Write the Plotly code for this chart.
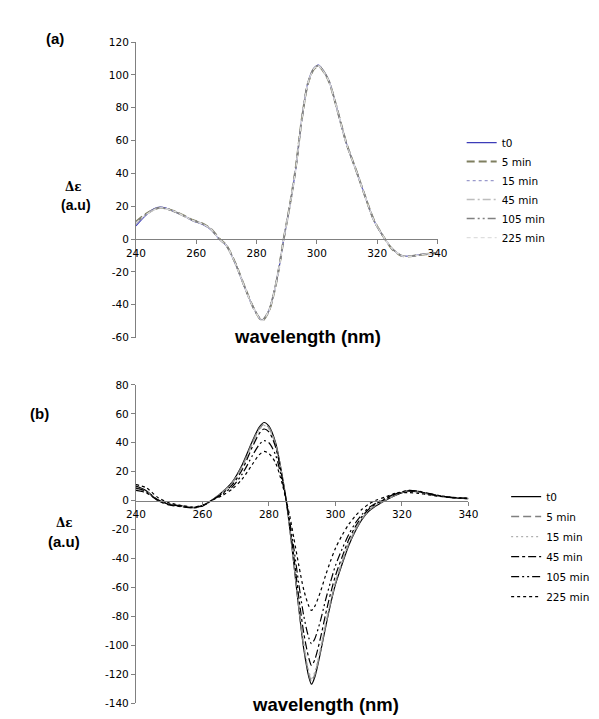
import plotly.graph_objects as go

W, H = 599, 719

# ---------------- data ----------------
series_names = ["t0", "5 min", "15 min", "45 min", "105 min", "225 min"]

wl_a = [240, 243, 246, 248, 250, 253, 256, 259, 262, 265, 267.6, 270, 273, 276, 279, 281.8, 284, 286, 287.5, 289,
        291, 293, 295, 297, 299, 300.5, 302, 304, 306, 308, 310, 313, 316, 319, 322.6, 325, 328, 330, 333, 336, 340]
a_t0 = [8, 14, 18.5, 19.5, 18.8, 16.5, 14, 11, 9, 5.5, 0, -4, -15, -29, -42, -49.5, -44, -31, -17, 0,
        20, 43, 73, 95, 104, 106, 103, 96.5, 84, 70, 57, 42, 26, 11, 0, -6, -10, -10.5, -10, -9, -8.5]
a_5 = [10.5, 15, 18, 19, 18.6, 16.8, 14.2, 11.5, 9.5, 6, 0.3, -3.8, -14.8, -28.8, -42, -49.8, -44.3, -31.2, -17, 0,
       20.3, 43.5, 73, 94.5, 103.5, 105.5, 102.6, 96, 84, 70.3, 57.2, 42, 26, 11.2, 0, -6.2, -10.2, -10.6, -10, -9.2, -8.4]
a_15 = [9, 14.5, 18.3, 19.3, 18.7, 16.6, 14, 11.2, 9.2, 5.8, 0, -4.1, -15.2, -29.2, -42.3, -49.6, -44, -31, -17.2, -0.2,
        20, 43, 72.5, 94.8, 103.8, 105.8, 102.8, 96.3, 84.2, 70.1, 57, 41.8, 25.8, 11, -0.2, -6.1, -10.1, -10.5, -10.1, -9.1, -8.6]
a_45 = [9.5, 14.2, 17.8, 18.8, 18.4, 16.4, 13.8, 11.1, 9.3, 5.7, 0.1, -4, -15, -29, -42, -49.3, -43.8, -30.8, -16.8, 0.2,
        20.2, 43.2, 72.8, 95, 104, 105.6, 102.8, 96.2, 84, 70, 56.8, 41.8, 25.9, 11.1, 0.1, -5.9, -9.9, -10.4, -9.9, -9, -8.4]
a_105 = [10, 14.6, 18.1, 19.1, 18.5, 16.6, 14.1, 11.3, 9.4, 5.9, 0.2, -3.9, -14.9, -28.9, -41.9, -49.4, -43.9, -30.9, -16.9, 0.1,
         20.1, 43.1, 72.9, 94.9, 103.9, 105.7, 102.9, 96.4, 84.1, 70.2, 57.1, 41.9, 26.1, 11.1, 0, -6, -10, -10.5, -10, -9, -8.5]
a_225 = [9.8, 14.4, 17.9, 19, 18.6, 16.7, 14, 11.2, 9.3, 5.8, 0.1, -4, -15.1, -29.1, -42.1, -49.7, -44.1, -31.1, -17.1, 0,
         20, 42.9, 72.7, 94.7, 103.7, 105.4, 102.7, 96.1, 83.9, 69.9, 56.9, 41.9, 25.9, 11, 0, -6, -10.1, -10.6, -10.1, -9.1, -8.5]

wl_b = [240, 243, 246.7, 250, 254, 257.4, 260, 262.7, 266, 269, 272, 275, 277, 278.5, 280, 282, 284, 285.2, 286.3, 287.5,
        289, 290.5, 292, 292.8, 293.8, 295.5, 297, 298.5, 300, 302, 304, 306, 308, 310, 312, 315, 318, 321.8, 325, 328,
        331, 335, 340]
b_t0 = [10, 7, 0, -2.5, -3.8, -4.8, -3.5, 0, 6, 13, 25, 41, 50.5, 54, 51.5, 40, 17, 0, -20, -44,
        -75, -103, -122, -127, -122, -105, -88, -72, -58, -44, -31, -21, -13, -7.5, -4, 0, 3.5, 6.5, 6, 4.5,
        3.2, 2, 1.4]
b_5 = [9, 6.5, 0, -2.8, -4, -5, -3.6, 0, 5.8, 12.5, 24, 40, 49.5, 52.8, 50.5, 39, 16.5, 0, -19.5, -43,
       -74, -101, -120, -125, -120.5, -104, -87, -71, -57, -43, -30, -20.5, -12.5, -7, -3.5, 0.3, 3.8, 6.8, 6.2, 4.6,
       3.3, 2.1, 1.5]
b_15 = [8, 6, 0, -3, -4.2, -5, -3.8, 0, 5.5, 12, 23, 39, 48.5, 52, 49.5, 38.5, 16, 0, -19, -42,
        -72, -99, -118, -123, -118.5, -102, -85, -69.5, -56, -42, -29, -19.5, -12, -6.5, -3, 0.5, 4, 7, 6.3, 4.8,
        3.4, 2.2, 1.5]
b_45 = [7, 5.5, 0, -3, -4.3, -5, -3.8, 0, 5, 11, 21.5, 37, 46, 49.5, 47.5, 37, 15.5, 0, -17.5, -39,
        -67, -92, -109, -114, -110, -95, -79, -64.5, -52, -39, -27, -18, -11, -6, -2.5, 1, 4.5, 7, 6.5, 5,
        3.6, 2.3, 1.6]
b_105 = [8.5, 6.5, 0.5, -2.5, -4, -4.8, -3.6, 0, 4.5, 9.5, 18.5, 31, 38.5, 41.5, 40, 31.5, 13.5, 0, -15, -33,
         -58, -80, -95, -99, -95.5, -83, -69, -56.5, -45, -33.5, -23.5, -15.5, -9.5, -5, -2, 1.5, 4.8, 6.8, 6.3, 4.8,
         3.5, 2.2, 1.5]
b_225 = [11, 9, 2, -1.5, -3.5, -4.5, -3.2, 0, 3.5, 8, 15, 25, 31.5, 34, 32.5, 26, 11.5, 0, -11, -26,
         -45, -62, -73, -76, -73, -63, -52, -42, -33, -24, -16.5, -10.5, -6, -2.5, 0, 2.5, 5, 5.5, 5, 4,
         3, 2, 1.3]

x_ticks = [240, 260, 280, 300, 320, 340]
ya_ticks = [-60, -40, -20, 0, 20, 40, 60, 80, 100, 120]
yb_ticks = [-140, -120, -100, -80, -60, -40, -20, 0, 20, 40, 60, 80]

# ---------------- styles ----------------
style_a = [
    dict(color="#3c3cb8", width=1.2, dash="solid"),
    dict(color="#7f7f60", width=2.0, dash="8px,4px"),
    dict(color="#9a9acc", width=1.2, dash="3px,3px"),
    dict(color="#bdbdbd", width=1.4, dash="8px,3px,2px,3px"),
    dict(color="#808080", width=1.6, dash="8px,3px,2px,3px,2px,3px"),
    dict(color="#dedede", width=1.2, dash="4px,3px"),
]
style_b = [
    dict(color="#000000", width=1.2, dash="solid"),
    dict(color="#808080", width=1.5, dash="8px,4px"),
    dict(color="#b0b0b0", width=1.2, dash="2px,3px"),
    dict(color="#000000", width=1.2, dash="8px,3px,3px,3px"),
    dict(color="#000000", width=1.2, dash="8px,3px,2px,3px,2px,3px"),
    dict(color="#000000", width=1.2, dash="3px,3px"),
]

fig = go.Figure()
for i, (name, ys, st) in enumerate(zip(series_names, [a_t0, a_5, a_15, a_45, a_105, a_225], style_a)):
    fig.add_trace(go.Scatter(x=wl_a, y=ys, name=name, mode="lines", line=dict(shape="spline", smoothing=0.8, **st),
                             xaxis="x", yaxis="y", legend="legend"))
for i, (name, ys, st) in enumerate(zip(series_names, [b_t0, b_5, b_15, b_45, b_105, b_225], style_b)):
    fig.add_trace(go.Scatter(x=wl_b, y=ys, name=name, mode="lines", line=dict(shape="spline", smoothing=0.8, **st),
                             xaxis="x2", yaxis="y2", legend="legend2", legendgroup="b%d" % i))

# ---------------- layout geometry (pixels -> paper) ----------------
def px(x):
    return x / W

def py(y):
    return 1 - y / H

ya_dom = [py(329), py(28.6)]
yb_dom = [py(700.7), py(377.2)]
xa_dom = [px(122), px(434)]
xb_dom = [px(122), px(466)]
ya_rng = [-60, 120]
yb_rng = [-140, 80]

def zero_pos(dom, rng):
    return dom[0] + (0 - rng[0]) / (rng[1] - rng[0]) * (dom[1] - dom[0])

tickfont = dict(family="DejaVu Sans", size=10.5, color="#000000")
axcommon = dict(showline=True, linecolor="#808080", linewidth=1, ticks="outside", ticklen=4, tickcolor="#808080",
                showgrid=False, zeroline=False, tickfont=tickfont, fixedrange=True)

legfont = dict(family="DejaVu Sans", size=10.5, color="#000000")
fig.update_layout(
    width=W, height=H, margin=dict(l=0, r=0, t=0, b=0),
    paper_bgcolor="white", plot_bgcolor="rgba(0,0,0,0)",
    xaxis=dict(domain=xa_dom, range=[240, 340], anchor="free", position=zero_pos(ya_dom, ya_rng),
               tickvals=x_ticks, ticktext=[str(v) for v in x_ticks], **axcommon),
    yaxis=dict(domain=ya_dom, range=ya_rng, anchor="x", tickvals=ya_ticks,
               ticktext=[str(v) for v in ya_ticks], **axcommon),
    xaxis2=dict(domain=xb_dom, range=[240, 340], anchor="free", position=zero_pos(yb_dom, yb_rng),
                tickvals=x_ticks, ticktext=[str(v) for v in x_ticks], **axcommon),
    yaxis2=dict(domain=yb_dom, range=yb_rng, anchor="x2", tickvals=yb_ticks,
                ticktext=[str(v) for v in yb_ticks], **axcommon),
    legend=dict(x=px(459), y=py(116), xanchor="left", yanchor="top", bgcolor="rgba(0,0,0,0)",
                font=legfont, itemwidth=30),
    legend2=dict(x=px(505), y=py(476), xanchor="left", yanchor="top", bgcolor="rgba(0,0,0,0)",
                 font=legfont, itemwidth=30, tracegroupgap=1, traceorder="grouped"),
    showlegend=True,
)

bold = dict(family="Liberation Sans", color="#000000")
annots = [
    dict(text="<b>(a)</b>", x=px(38), y=py(25), font=dict(size=15, **bold)),
    dict(text="<b>(b)</b>", x=px(22), y=py(406), font=dict(size=15, **bold)),
    dict(text="<b>Δε</b>", x=px(57), y=py(176), font=dict(size=12, family="DejaVu Serif", color="#000000")),
    dict(text="<b>(a.u)</b>", x=px(59.5), y=py(194), font=dict(size=14, **bold)),
    dict(text="<b>Δε</b>", x=px(48), y=py(518), font=dict(size=12, family="DejaVu Serif", color="#000000")),
    dict(text="<b>(a.u)</b>", x=px(48), y=py(536), font=dict(size=15, **bold)),
    dict(text="<b>wavelength (nm)</b>", x=px(300), y=py(328), font=dict(size=18.5, **bold)),
    dict(text="<b>wavelength (nm)</b>", x=px(318), y=py(702), font=dict(size=18.5, **bold)),
]
for a in annots:
    fig.add_annotation(xref="paper", yref="paper", showarrow=False, xanchor="center", yanchor="middle", **a)

fig.write_html("out.html")
